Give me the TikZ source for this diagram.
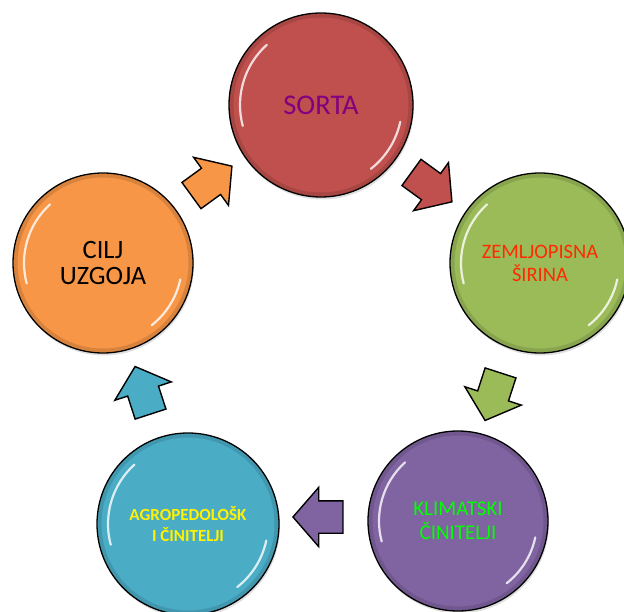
\documentclass[tikz,border=0pt]{standalone}
\usepackage{fontspec}
\setmainfont{Carlito}
\usepackage{xcolor}
\usetikzlibrary{shapes.arrows, shadows}

\definecolor{sortafill}{HTML}{C0504D}
\definecolor{zemfill}{HTML}{9BBB59}
\definecolor{klimfill}{HTML}{8064A2}
\definecolor{agrofill}{HTML}{4BACC6}
\definecolor{ciljfill}{HTML}{F79646}
\definecolor{sortatext}{HTML}{800080}
\definecolor{zemtext}{HTML}{FF2A00}

\begin{document}
\begin{tikzpicture}[
    x=1pt, y=1pt,
    ball/.style={circle, draw=black, line width=1.3pt, minimum size=#1, inner sep=0pt, align=center,
        drop shadow={opacity=0.25, shadow xshift=1pt, shadow yshift=-2.5pt}},
    ball/.default=180pt,
    turn/.style={single arrow, draw=black, line width=1.4pt, minimum height=50pt, minimum width=58pt,
        single arrow head extend=13.5pt, single arrow tip angle=98, inner sep=0pt,
        text height=15.5pt, text depth=15.5pt, text width=0pt},
    rim/.style={black, opacity=0.12, line width=4pt},
    gloss/.style={white, line width=2.2pt, line cap=round, opacity=0.8}
]
\useasboundingbox (0,0) rectangle (624,611);

% the five circles
\node[ball=184pt, fill=sortafill, text=sortatext, font=\fontsize{28.5}{32}\selectfont] (sorta) at (321,506) {SORTA};
\node[ball, fill=zemfill, text=zemtext, font=\fontsize{20.5}{23}\selectfont] (zem) at (540,348) {ZEMLJOPISNA\\ŠIRINA};
\node[ball, fill=klimfill, text=green, font=\fontsize{21}{24}\selectfont] (klim) at (458,90) {KLIMATSKI\\ČINITELJI};
\node[ball=182pt, fill=agrofill, text=yellow, font=\bfseries\fontsize{17}{21}\selectfont] (agro) at (188,87) {AGROPEDOLOŠK\\I ČINITELJI};
\node[ball, fill=ciljfill, text=black, font=\fontsize{26.5}{26.5}\selectfont] (cilj) at (103,348) {CILJ\\UZGOJA};

% shine on the circles
\foreach \n/\r in {sorta/92, zem/90, klim/90, agro/91, cilj/90} {
    \draw[rim] (\n.center) circle[radius=\r-2.5];
    \draw[gloss] (\n.center) ++(132:\r-11) arc[start angle=132, end angle=195, radius=\r-11];
    \draw[gloss] (\n.center) ++(-12:\r-11) arc[start angle=-12, end angle=-52, radius=\r-11];
}

% arrows between the circles
\node[turn, fill=ciljfill, rotate=36] (a1) at (206,426) {};
\node[turn, fill=sortafill, rotate=-36] (a2) at (426,428) {};
\node[turn, fill=zemfill, rotate=252] (a3) at (495,221) {};
\node[turn, fill=klimfill, rotate=180] (a4) at (325,94) {};
\node[turn, fill=agrofill, rotate=108] (a5) at (145,214) {};

\end{tikzpicture}
\end{document}
